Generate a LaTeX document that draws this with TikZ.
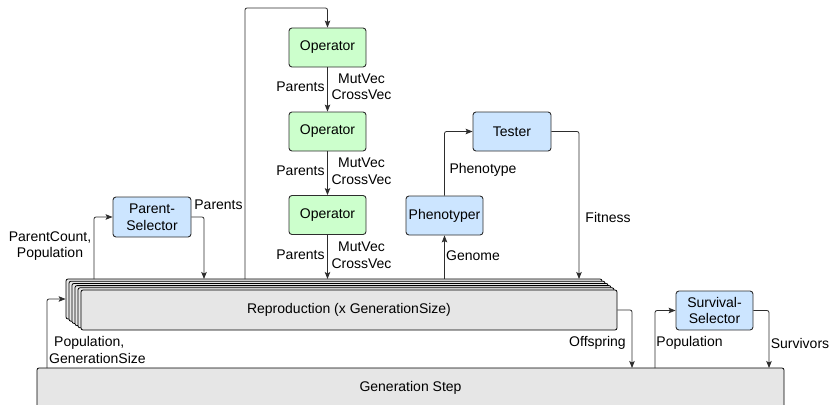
\documentclass[tikz,border=0pt]{standalone}
\usepackage{fontspec}
\setmainfont{Liberation Sans}
\usetikzlibrary{arrows.meta}
\definecolor{opgreen}{RGB}{204,255,204}
\definecolor{selblue}{RGB}{204,229,255}
\definecolor{stepgray}{RGB}{230,230,230}
\definecolor{linegray}{RGB}{45,45,45}
\begin{document}
\begin{tikzpicture}[x=1pt,y=-1pt,
  font=\fontsize{14}{16.5}\selectfont,
  opbox/.style={draw=linegray, line width=0.9pt, rounded corners=3pt, fill=opgreen,
    minimum width=77pt, minimum height=39pt, inner sep=0pt, align=center},
  selbox/.style={draw=linegray, line width=0.9pt, rounded corners=3pt, fill=selblue,
    minimum width=78pt, minimum height=40pt, inner sep=0pt, align=center},
  layer/.style={draw=black, line width=0.8pt, rounded corners=2pt, fill=stepgray,
    minimum width=536pt, minimum height=40pt, inner sep=0pt},
  flow/.style={draw=linegray, line width=0.8pt, rounded corners=2pt,
    -{Stealth[length=7pt,width=5.5pt,inset=1.5pt]}},
  lbl/.style={inner sep=0pt, align=center}]

\useasboundingbox (0,0) rectangle (829,404);

% generation step (runs past the lower edge)
\node[layer, minimum width=747pt, minimum height=40pt] (gs) at (410.5,388) {Generation Step};

% stacked reproduction boxes
\foreach \i in {0,...,4}{
  \node[layer] (rl\i) at ({334+3*\i},{299+2.2*\i}) {};
}
\node[layer] (rf) at (349,310) {Reproduction (x GenerationSize)};

% operator chain
\node[opbox] (op1) at (327.5,47.5) {Operator};
\node[opbox] (op2) at (327.5,131.5) {Operator};
\node[opbox] (op3) at (327.5,215) {Operator};

% selectors and evaluation
\node[selbox] (ps) at (152,217) {Parent-\\Selector};
\node[selbox, minimum width=77pt, minimum height=39pt] (ph) at (444.5,215.5) {Phenotyper};
\node[selbox, minimum height=39pt] (ts) at (512,131.5) {Tester};
\node[selbox, minimum width=77pt, minimum height=39pt] (ss) at (714.5,310.5) {Survival-\\Selector};

% connector end points
\coordinate (pcOut) at (94,279);
\coordinate (parIn) at (204,279);
\coordinate (loopOut) at (245,279);
\coordinate (loopTop) at (245,8);
\coordinate (opIn) at (327.5,279);
\coordinate (genOut) at (444.5,279);
\coordinate (fitIn) at (579,279);
\coordinate (popOut) at (47,368);
\coordinate (offIn) at (632,368);
\coordinate (survOut) at (655,368);
\coordinate (survIn) at (769,368);

% connectors
\draw[flow] (pcOut) |- (ps.west);
\draw[flow] (ps.east) -| (parIn);
\draw[flow] (loopOut) -- (loopTop) -| (op1.north);
\draw[flow] (op1.south) -- (op2.north);
\draw[flow] (op2.south) -- (op3.north);
\draw[flow] (op3.south) -- (opIn);
\draw[flow] (genOut) -- (ph.south);
\draw[flow] (ph.north) |- (ts.west);
\draw[flow] (ts.east) -| (fitIn);
\draw[flow] (popOut) |- (rl0.west);
\draw[flow] (rf.east) -| (offIn);
\draw[flow] (survOut) |- (ss.west);
\draw[flow] (ss.east) -| (survIn);

% labels
\node[lbl] (lpc) at (50,246) {ParentCount,\\Population};
\node[lbl] (lpar) at (218.5,205) {Parents};
\node[lbl, align=left, anchor=west] (lpop) at (49,350) {\hspace*{5pt}Population,\\GenerationSize};
\foreach \y [count=\k] in {87,171,255}{
  \node[lbl] (lp\k) at (300.5,\y) {Parents};
  \node[lbl] (lv\k) at (361.5,\y) {MutVec\\CrossVec};
}
\node[lbl] (lphen) at (483,170) {Phenotype};
\node[lbl] (lgen) at (473,256) {Genome};
\node[lbl] (lfit) at (608,217) {Fitness};
\node[lbl] (loff) at (597.5,343) {Offspring};
\node[lbl] (lsp) at (689.5,343) {Population};
\node[lbl] (lsv) at (800,343) {Survivors};
\end{tikzpicture}
\end{document}
